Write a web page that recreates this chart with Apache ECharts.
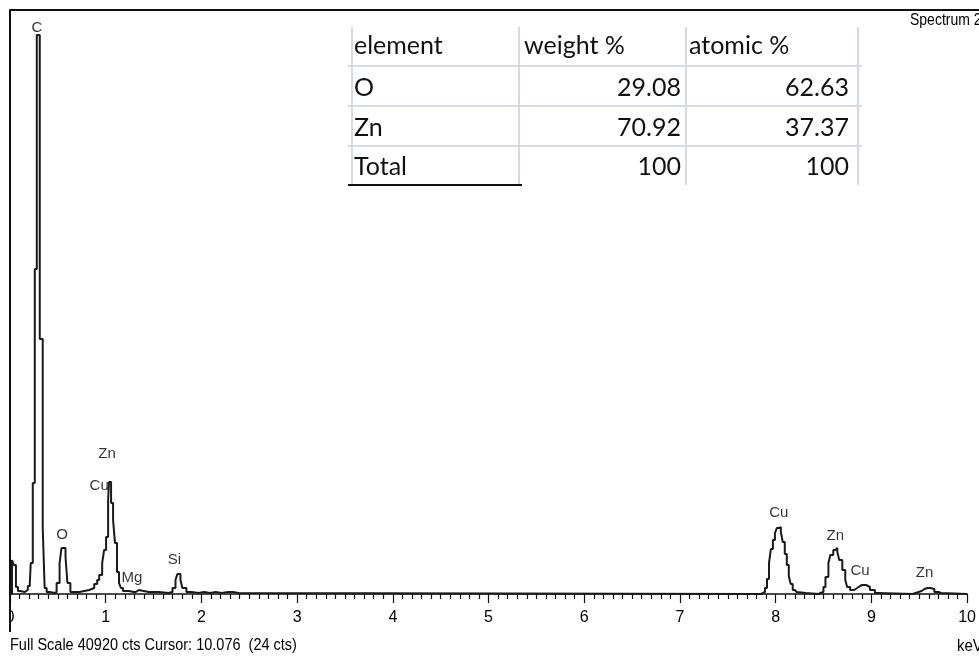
<!DOCTYPE html>
<html>
<head>
<meta charset="utf-8">
<script src="https://cdn.jsdelivr.net/npm/echarts@6/dist/echarts.min.js"></script>
<style>
html,body{margin:0;padding:0;background:#fff;}
#c{width:979px;height:656px;}
</style>
</head>
<body>
<div id="c"></div>
<script>
// ---- spectrum data (keV, counts) ----
const energyKeV = [
  0.000, 0.021, 0.041, 0.062, 0.083, 0.104, 0.124, 0.155, 0.186, 0.207,
  0.217, 0.238, 0.259, 0.280, 0.311, 0.342, 0.362, 0.383, 0.414, 0.466,
  0.487, 0.518, 0.538, 0.580, 0.600, 0.631, 0.673, 0.725, 0.776, 0.828,
  0.880, 0.911, 0.932, 0.963, 0.983, 1.004, 1.025, 1.035, 1.056, 1.077,
  1.097, 1.118, 1.139, 1.159, 1.180, 1.242, 1.294, 1.315, 1.346, 1.449,
  1.553, 1.656, 1.698, 1.729, 1.749, 1.781, 1.801, 1.843, 1.900, 1.967,
  2.030, 2.090, 2.150, 2.210, 2.280, 2.330, 2.390,
  7.820, 7.847, 7.867, 7.888, 7.909, 7.930, 7.950, 7.971, 7.992, 8.012,
  8.033, 8.054, 8.074, 8.095, 8.116, 8.137, 8.157, 8.178, 8.199, 8.220,
  8.313, 8.447, 8.468, 8.499, 8.520, 8.551, 8.571, 8.602, 8.623, 8.644,
  8.664, 8.696, 8.727, 8.747, 8.778, 8.820, 8.851, 8.882, 8.903, 8.944,
  8.985, 9.037, 9.068, 9.431, 9.451, 9.493, 9.524, 9.555, 9.586, 9.617,
  9.658, 9.700, 9.730, 10.000
];
const counts = [
  0, 2380, 2030, 490, 210, 70, 140, 280, 560, 770,
  2170, 7780, 22770, 39170, 17870, 4620, 420, 140, 70, 140,
  770, 2170, 3220, 2590, 770, 140, 140, 210, 280, 420,
  700, 980, 1330, 2170, 3080, 3990, 6590, 7850, 6380, 5190,
  3570, 1540, 770, 420, 210, 140, 140, 280, 140, 140,
  70, 140, 420, 980, 1400, 980, 420, 140, 70, 140,
  70, 140, 70, 140, 140, 70, 0,
  0, 70, 140, 420, 1050, 2170, 3150, 3780, 4270, 4620,
  4690, 4340, 3640, 2800, 2030, 1260, 700, 280, 140, 70,
  0, 70, 140, 490, 1190, 2170, 2730, 3080, 3220, 2940,
  2380, 1680, 980, 490, 280, 420, 560, 630, 630, 490,
  280, 70, 0, 70, 140, 210, 350, 420, 420, 350,
  140, 70, 0, 0
];
const fullScale = 40920;

// ---- peak annotations ----
const peakNames  = ['C', 'O', 'Zn', 'Cu', 'Mg', 'Si', 'Cu', 'Zn', 'Cu', 'Zn'];
const peakKeV    = [0.280, 0.543, 1.014, 0.932, 1.273, 1.718, 8.033, 8.623, 8.882, 9.555];
const peakCounts = [39660, 4134, 9810, 7568, 1121, 2382, 5676, 4064, 1612, 1471];

// ---- x tick labels ----
const xTickLabels = ['0','1','2','3','4','5','6','7','8','9','10'];

// ---- composition table ----
const tableHeader   = ['element', 'weight %', 'atomic %'];
const tableElements = ['O', 'Zn', 'Total'];
const weightPct     = ['29.08', '70.92', '100'];
const atomicPct     = ['62.63', '37.37', '100'];

const titleText  = 'Spectrum 2';
const footerText = 'Full Scale 40920 cts Cursor: 10.076  (24 cts)';
const unitText   = 'keV';

const SANS = '"Liberation Sans", Arial, sans-serif';
const TABLEFONT = 'Lato, "Open Sans", "Noto Sans", sans-serif';

const chart = echarts.init(document.getElementById('c'), null, {renderer: 'canvas'});

const lineData = energyKeV.map((e, i) => [e, counts[i]]);
const labelData = peakNames.map((n, i) => ({name: n, value: [peakKeV[i], peakCounts[i]]}));

// table graphics
const colX = [352, 519, 686, 858];
const rowY = [27, 66, 106, 146, 185];
const rowCenters = [46, 88, 128, 167];
const gridColor = '#d5d9e3';
const tableGraphics = [];
colX.forEach(x => tableGraphics.push({
  type: 'line', shape: {x1: x, y1: rowY[0], x2: x, y2: rowY[4]},
  style: {stroke: gridColor, lineWidth: 2}, silent: true
}));
[rowY[1], rowY[2], rowY[3]].forEach(y => tableGraphics.push({
  type: 'line', shape: {x1: 348, y1: y, x2: 862, y2: y},
  style: {stroke: gridColor, lineWidth: 2}, silent: true
}));
tableGraphics.push({
  type: 'line', shape: {x1: 348, y1: 185, x2: 522, y2: 185},
  style: {stroke: '#111', lineWidth: 2}, silent: true
});
const tStyle = (txt, x, y, align) => ({
  type: 'text', x: x, y: y, silent: true,
  style: {text: txt, font: '25px ' + TABLEFONT, fill: '#111', align: align, verticalAlign: 'middle'}
});
tableGraphics.push(tStyle(tableHeader[0], 354, rowCenters[0], 'left'));
tableGraphics.push(tStyle(tableHeader[1], 524, rowCenters[0], 'left'));
tableGraphics.push(tStyle(tableHeader[2], 689, rowCenters[0], 'left'));
tableElements.forEach((el, i) => {
  tableGraphics.push(tStyle(el, 354, rowCenters[i + 1], 'left'));
  tableGraphics.push(tStyle(weightPct[i], 681, rowCenters[i + 1], 'right'));
  tableGraphics.push(tStyle(atomicPct[i], 849, rowCenters[i + 1], 'right'));
});

const option = {
  animation: false,
  backgroundColor: '#ffffff',
  grid: {left: 10, right: 4, top: 10, bottom: 62, containLabel: false},
  xAxis: {
    type: 'value', min: 0, max: 10, interval: 1,
    axisLine: {show: true, onZero: false, lineStyle: {color: '#111', width: 1.5}},
    axisTick: {show: true, inside: false, length: 9, lineStyle: {color: '#111', width: 1.2}},
    minorTick: {show: true, splitNumber: 10, length: 5, lineStyle: {color: '#111', width: 1.2}},
    axisLabel: {
      show: true, margin: 16, color: '#000', fontSize: 16, fontFamily: SANS,
      formatter: v => xTickLabels[Math.round(v)] ?? ''
    },
    splitLine: {show: false}, minorSplitLine: {show: false}
  },
  yAxis: {
    type: 'value', min: 0, max: fullScale,
    axisLine: {show: true, lineStyle: {color: '#111', width: 2}},
    axisTick: {show: false}, axisLabel: {show: false}, splitLine: {show: false}
  },
  series: [
    {
      type: 'line', data: lineData, step: 'end', showSymbol: false, symbol: 'none',
      lineStyle: {color: '#1a1a1a', width: 2}, z: 3, clip: true
    },
    {
      type: 'scatter', data: labelData, symbolSize: 1, itemStyle: {color: 'rgba(0,0,0,0)'},
      label: {show: true, position: 'inside', formatter: '{b}', color: '#000', fontSize: 15, fontFamily: SANS},
      z: 4, silent: true
    }
  ],
  graphic: [
    {type: 'line', shape: {x1: 10, y1: 10, x2: 979, y2: 10}, style: {stroke: '#111', lineWidth: 2}, silent: true, z: 10},
    {type: 'rect', shape: {x: 0, y: 597, width: 9, height: 34}, style: {fill: '#fff'}, silent: true, z: 20},
    {type: 'line', shape: {x1: 10, y1: 10, x2: 10, y2: 632}, style: {stroke: '#111', lineWidth: 2}, silent: true, z: 21},
    {type: 'text', x: 910, y: 21, scaleY: 1.15, silent: true, z: 10,
     style: {text: titleText, font: '14px ' + SANS, fill: '#000', align: 'left', verticalAlign: 'middle'}},
    {type: 'text', x: 10, y: 645, scaleY: 1.2, silent: true, z: 22,
     style: {text: footerText, font: '14.5px ' + SANS, fill: '#000', align: 'left', verticalAlign: 'middle'}},
    {type: 'text', x: 957, y: 646, scaleY: 1.15, silent: true, z: 10,
     style: {text: unitText, font: '15px ' + SANS, fill: '#000', align: 'left', verticalAlign: 'middle'}}
  ].concat(tableGraphics)
};
chart.setOption(option);
</script>
</body>
</html>
